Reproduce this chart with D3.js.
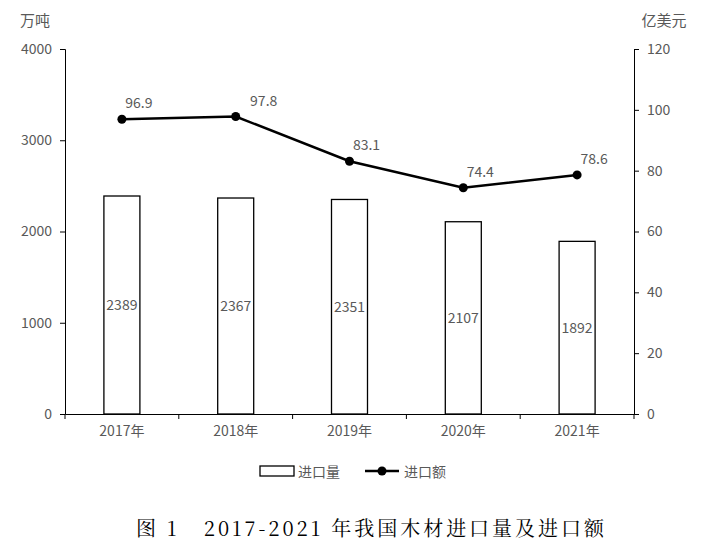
<!DOCTYPE html>
<html><head><meta charset="utf-8">
<script src="https://cdn.jsdelivr.net/npm/d3@7/dist/d3.min.js"></script>
<style>body{margin:0;background:#fff}text{font-family:"Noto Sans CJK SC",sans-serif}</style>
</head><body><svg id="c" width="716" height="556"></svg>
<script>
const years=["2017年","2018年","2019年","2020年","2021年"];
const volume=[2389,2367,2351,2107,1892];
const amount=[96.9,97.8,83.1,74.4,78.6];
const leftTicks=[0,1000,2000,3000,4000];
const rightTicks=[0,20,40,60,80,100,120];

const svg=d3.select("#c");
const L=65,R=634,T=49,B=414;
const x=d3.scaleBand().domain(years).range([L,R]);
const yL=d3.scaleLinear().domain([0,4000]).range([B,T]);
const yR=d3.scaleLinear().domain([0,120]).range([B,T]);
const gray="#595959";

const la=svg.append("g").attr("transform",`translate(${L},0)`).call(d3.axisLeft(yL).tickValues(leftTicks).tickFormat(d3.format("d")).tickSize(5).tickPadding(8));
const ra=svg.append("g").attr("transform",`translate(${R},0)`).call(d3.axisRight(yR).tickValues(rightTicks).tickFormat(d3.format("d")).tickSize(5).tickPadding(8));
const xa=svg.append("g").attr("transform",`translate(0,${B})`).call(d3.axisBottom(x).tickSize(0).tickPadding(12));
[la,ra,xa].forEach(g=>{g.selectAll("text").attr("fill",gray).style("font-size","14px");g.select(".domain").attr("stroke","#000");g.selectAll(".tick line").attr("stroke","#000");});
xa.selectAll(".tick line").remove();
xa.selectAll(".sep").data(d3.range(years.length+1)).enter().append("line")
 .attr("x1",i=>L+i*x.bandwidth()).attr("x2",i=>L+i*x.bandwidth()).attr("y1",0).attr("y2",5).attr("stroke","#000");

const bw=36;
svg.selectAll(".bar").data(volume).enter().append("rect")
 .attr("x",(d,i)=>x(years[i])+x.bandwidth()/2-bw/2).attr("width",bw)
 .attr("y",d=>yL(d)).attr("height",d=>B-yL(d)).attr("fill","#fff").attr("stroke","#000").attr("stroke-width",1.3);
svg.selectAll(".bl").data(volume).enter().append("text")
 .attr("x",(d,i)=>x(years[i])+x.bandwidth()/2).attr("y",d=>(yL(d)+B)/2+5)
 .attr("text-anchor","middle").attr("fill",gray).style("font-size","14px").text(d=>d);

const cx=i=>x(years[i])+x.bandwidth()/2;
svg.append("path").datum(amount).attr("fill","none").attr("stroke","#000").attr("stroke-width",2.5)
 .attr("d",d3.line().x((d,i)=>cx(i)).y(d=>yR(d)));
svg.selectAll(".pt").data(amount).enter().append("circle").attr("cx",(d,i)=>cx(i)).attr("cy",d=>yR(d)).attr("r",4.5).attr("fill","#000");
svg.selectAll(".pl").data(amount).enter().append("text")
 .attr("x",(d,i)=>cx(i)+(i==1?28:17)).attr("y",d=>yR(d)-11)
 .attr("text-anchor","middle").attr("fill",gray).style("font-size","14px").text(d=>d.toFixed(1));

svg.append("text").attr("x",35).attr("y",26).attr("text-anchor","middle").attr("fill",gray).style("font-size","15px").text("万吨");
svg.append("text").attr("x",664).attr("y",26).attr("text-anchor","middle").attr("fill",gray).style("font-size","15px").text("亿美元");

svg.append("rect").attr("x",260).attr("y",466).attr("width",34).attr("height",10).attr("fill","#fff").attr("stroke","#000").attr("stroke-width",1.3);
svg.append("text").attr("x",298).attr("y",477).attr("fill",gray).style("font-size","14px").text("进口量");
svg.append("line").attr("x1",365).attr("x2",399).attr("y1",471).attr("y2",471).attr("stroke","#000").attr("stroke-width",2.5);
svg.append("circle").attr("cx",382).attr("cy",471).attr("r",4.5).attr("fill","#000");
svg.append("text").attr("x",404).attr("y",477).attr("fill",gray).style("font-size","14px").text("进口额");

svg.append("text").attr("x",136).attr("y",536).attr("fill","#000")
 .style("font-family",'"Noto Serif CJK SC","Liberation Serif",serif').style("font-size","20px").attr("xml:space","preserve")
 .attr("textLength",468).attr("lengthAdjust","spacing")
 .text("图 1   2017-2021 年我国木材进口量及进口额");
</script></body></html>
